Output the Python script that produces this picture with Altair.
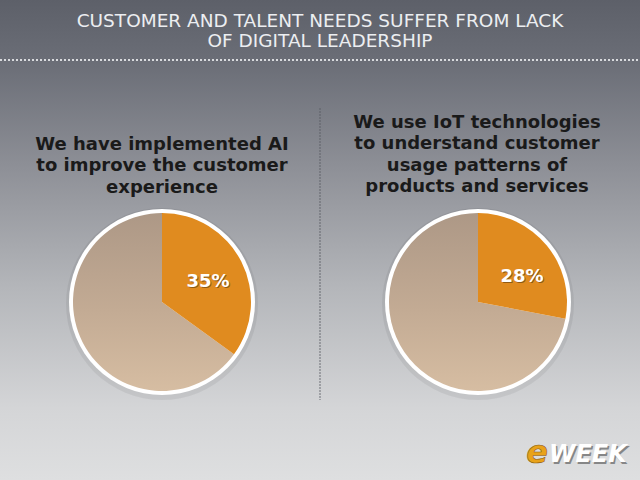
import altair as alt
import pandas as pd
import math

# ---------------- data ----------------
TITLE_LINES = ["CUSTOMER AND TALENT NEEDS SUFFER FROM LACK", "OF DIGITAL LEADERSHIP"]
LEFT_QUESTION = ["We have implemented AI", "to improve the customer", "experience"]
RIGHT_QUESTION = ["We use IoT technologies", "to understand customer", "usage patterns of", "products and services"]
PIES = ["AI", "IoT"]
SEGMENTS = ["Yes", "Other"]
AI_VALUES = [35, 65]
IOT_VALUES = [28, 72]
LOGO_E = "e"
LOGO_REST = "WEEK"

W, H = 640, 480
ORANGE = "#e08b1f"

rows = []
for pie, vals in zip(PIES, [AI_VALUES, IOT_VALUES]):
    for i, (seg, v) in enumerate(zip(SEGMENTS, vals)):
        rows.append({"pie": pie, "segment": seg, "value": v, "order": i,
                     "label": f"{v}%"})
df = pd.DataFrame(rows)

dummy = alt.Data(values=[{"a": 1}])

bg_grad = alt.Gradient(
    gradient="linear", x1=0, x2=0, y1=0, y2=1,
    stops=[alt.GradientStop(color="#5d6069", offset=0),
           alt.GradientStop(color="#6c6f78", offset=0.14),
           alt.GradientStop(color="#8e9097", offset=0.35),
           alt.GradientStop(color="#b4b6ba", offset=0.6),
           alt.GradientStop(color="#d4d5d7", offset=0.85),
           alt.GradientStop(color="#dedfe0", offset=1)])

tan_grad = alt.Gradient(
    gradient="linear", x1=0, x2=0, y1=0, y2=1,
    stops=[alt.GradientStop(color="#ad9886", offset=0),
           alt.GradientStop(color="#c3ab94", offset=0.55),
           alt.GradientStop(color="#d6bda2", offset=1)])

background = alt.Chart(dummy).mark_rect(color=bg_grad).encode(
    x=alt.value(0), x2=alt.value(W), y=alt.value(0), y2=alt.value(H))

hrule = alt.Chart(dummy).mark_rule(color="#e6e7ea", strokeWidth=2, strokeDash=[2, 2], opacity=0.9).encode(
    x=alt.value(0), x2=alt.value(W), y=alt.value(60))

vrule = alt.Chart(dummy).mark_rule(color="#555860", strokeWidth=1, strokeDash=[2, 1], opacity=0.8).encode(
    x=alt.value(320), y=alt.value(108), y2=alt.value(400))

title = alt.Chart(dummy).mark_text(
    text=TITLE_LINES, font="DejaVu Sans", fontWeight="normal", fontSize=18.5, color="#eceef1",
    lineHeight=19.5, align="center", baseline="alphabetic").encode(
    x=alt.value(320), y=alt.value(27))

left_q = alt.Chart(dummy).mark_text(
    text=LEFT_QUESTION, font="DejaVu Sans", fontWeight="bold", fontSize=18, color="#1a1a1a",
    lineHeight=21.5, align="center", baseline="alphabetic").encode(
    x=alt.value(162), y=alt.value(149.5))

right_q = alt.Chart(dummy).mark_text(
    text=RIGHT_QUESTION, font="DejaVu Sans", fontWeight="bold", fontSize=18, color="#1a1a1a",
    lineHeight=21.5, align="center", baseline="alphabetic").encode(
    x=alt.value(477), y=alt.value(127.5))

theta_scale = alt.Scale(domain=[0, 100], range=[0, 2 * math.pi])


def pie_layers(pie_name, cx, cy, ldx, ldy):
    base = alt.Chart(df).transform_filter(alt.datum.pie == pie_name).transform_stack(
        stack="value", groupby=["pie"], sort=[alt.SortField("order")], as_=["v0", "v1"]
    ).transform_calculate(mid="(datum.v0 + datum.v1) / 2")
    shadow = alt.Chart(dummy).mark_arc(radius=96, theta=0, theta2=2 * math.pi,
                                       color="#000000", opacity=0.06).encode(
        x=alt.value(cx), y=alt.value(cy + 2))
    ring = alt.Chart(dummy).mark_arc(radius=93, theta=0, theta2=2 * math.pi,
                                     color="#ffffff").encode(x=alt.value(cx), y=alt.value(cy))
    tan = base.transform_filter(alt.datum.segment == "Other").mark_arc(
        radius=89, color=tan_grad).encode(
        x=alt.value(cx), y=alt.value(cy),
        theta=alt.Theta("v0:Q", scale=theta_scale), theta2="v1:Q")
    orange = base.transform_filter(alt.datum.segment == "Yes").mark_arc(
        radius=89, color=ORANGE).encode(
        x=alt.value(cx), y=alt.value(cy),
        theta=alt.Theta("v0:Q", scale=theta_scale), theta2="v1:Q")
    lab_base = base.transform_filter(alt.datum.segment == "Yes")
    lab_shadow = lab_base.mark_text(radius=50, font="DejaVu Sans", fontWeight="bold", fontSize=18,
                                    color="#5a3a10", opacity=0.6, dx=ldx + 1, dy=ldy + 1).encode(
        x=alt.value(cx), y=alt.value(cy),
        theta=alt.Theta("mid:Q", scale=theta_scale), text="label:N")
    lab = lab_base.mark_text(radius=50, font="DejaVu Sans", fontWeight="bold", fontSize=18,
                             color="#ffffff", dx=ldx, dy=ldy).encode(
        x=alt.value(cx), y=alt.value(cy),
        theta=alt.Theta("mid:Q", scale=theta_scale), text="label:N")
    return [shadow, ring, tan, orange, lab_shadow, lab]


logo_e = alt.Chart(dummy).mark_text(
    text=LOGO_E, font="DejaVu Sans", fontWeight="bold", fontStyle="italic", fontSize=32,
    color="#e8a21a", stroke="#8a5a10", strokeWidth=0.6, align="right", baseline="alphabetic").encode(
    x=alt.value(548), y=alt.value(463))
logo_rest_shadow = alt.Chart(dummy).mark_text(
    text=LOGO_REST, font="DejaVu Sans", fontWeight="bold", fontStyle="italic", fontSize=24,
    color="#333333", opacity=0.5, align="left", baseline="alphabetic", dx=1.5, dy=1.5).encode(
    x=alt.value(549), y=alt.value(462))
logo_rest = alt.Chart(dummy).mark_text(
    text=LOGO_REST, font="DejaVu Sans", fontWeight="bold", fontStyle="italic", fontSize=24,
    color="#ffffff", align="left", baseline="alphabetic").encode(
    x=alt.value(549), y=alt.value(462))

layers = [background, hrule, vrule, title, left_q, right_q]
layers += pie_layers("AI", 162, 302, 1.5, 2.5)
layers += pie_layers("IoT", 478, 302, 5.5, 7)
layers += [logo_rest_shadow, logo_rest, logo_e]

chart = alt.layer(*layers).properties(
    width=W, height=H, padding=0, autosize=alt.AutoSizeParams(type="none"),
    background="#dcdddf"
).configure_view(stroke=None)

chart.save("out.html", embed_options={"renderer": "svg", "actions": False})
